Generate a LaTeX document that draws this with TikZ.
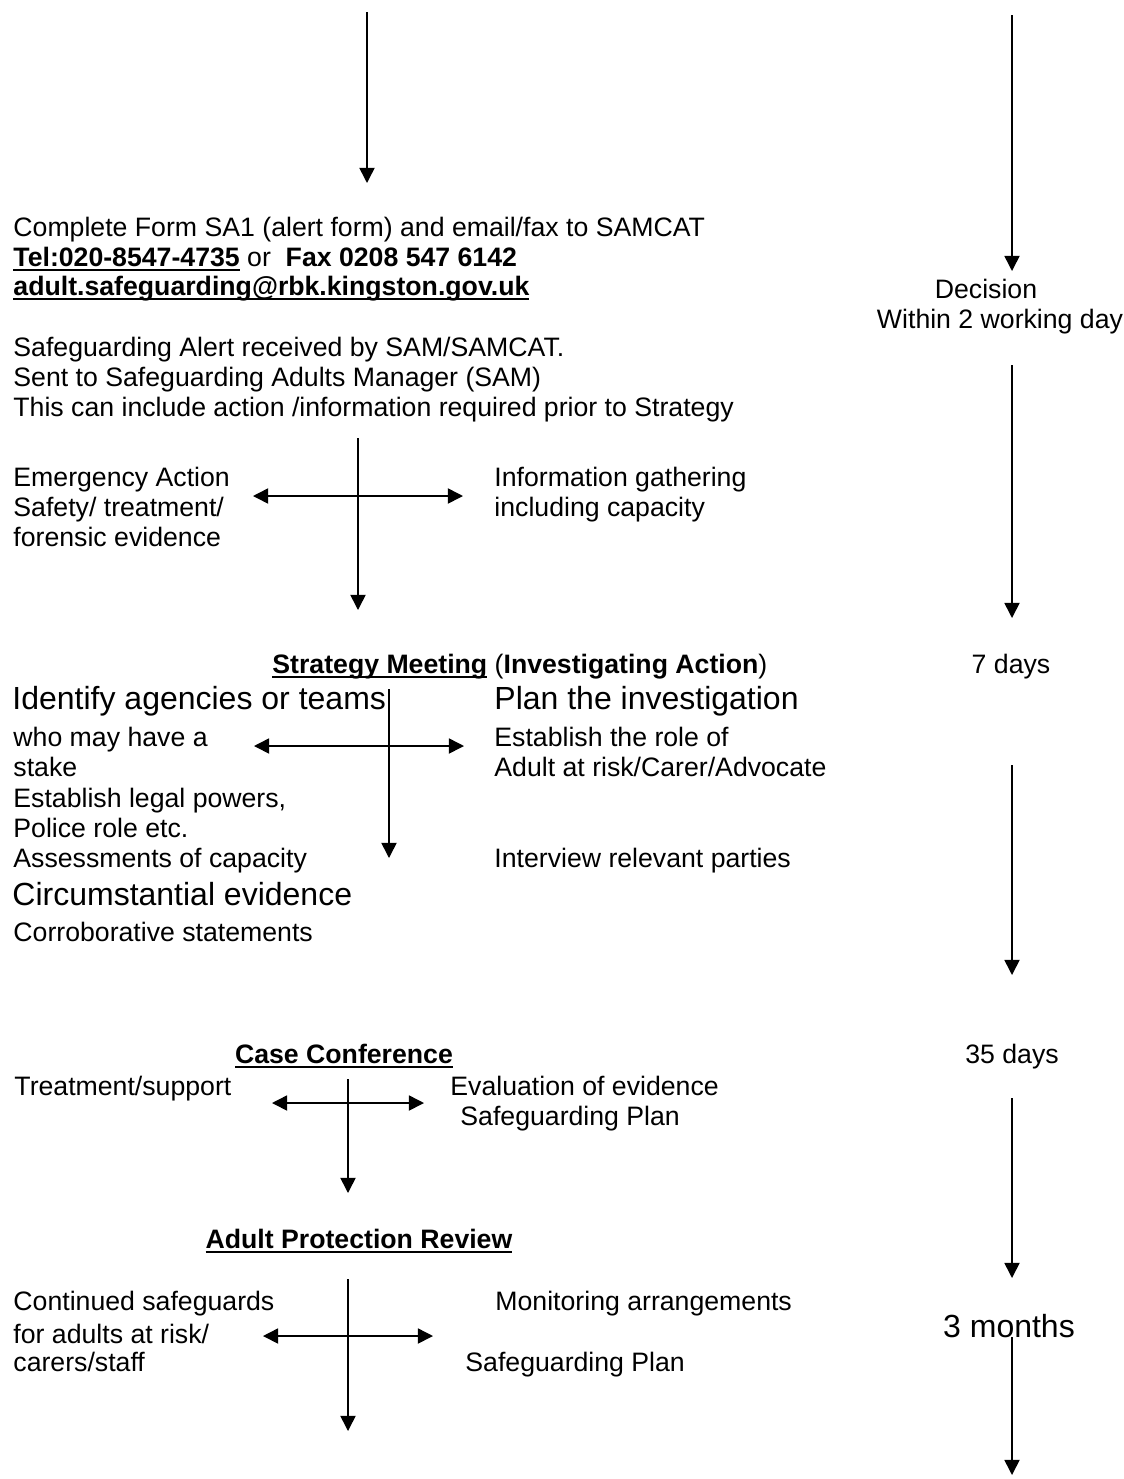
\documentclass[tikz,border=0pt]{standalone}
\usepackage{fontspec}
\setmainfont{Liberation Sans}
\usetikzlibrary{arrows.meta}
\newcommand\myul[1]{\setbox0\hbox{#1}\rlap{\rule[-2.3pt]{\wd0}{0.9pt}}\box0\relax}
\begin{document}
\begin{tikzpicture}[x=0.45pt,y=-0.45pt,
  t/.style={anchor=base west,inner sep=0pt,font=\fontsize{12}{14}\selectfont},
  tc/.style={anchor=base,inner sep=0pt,font=\fontsize{12}{14}\selectfont},
  big/.style={anchor=base west,inner sep=0pt,font=\fontsize{14.4}{17}\selectfont},
  bigc/.style={anchor=base,inner sep=0pt,font=\fontsize{14.4}{17}\selectfont},
  arr/.style={line width=0.7pt,-{Triangle[length=6.8pt,width=6.8pt]}},
  darr/.style={line width=0.7pt,{Triangle[length=6.8pt,width=6.8pt]}-{Triangle[length=6.8pt,width=6.8pt]}}]
\useasboundingbox (0,0) rectangle (1123,1479);

% ---------- left column text ----------
\node[t] (l1) at (13,236) {Complete Form SA1 (alert form) and email/fax to SAMCAT};
\node[t] (l2) at (13,266) {\myul{\textbf{Tel:020-8547-4735}} or \ \textbf{Fax 0208 547 6142}};
\node[t] (l3) at (13,295) {\myul{\textbf{adult.safeguarding@rbk.kingston.gov.uk}}};
\node[t] (l4) at (13,356) {Safeguarding Alert received by SAM/SAMCAT.};
\node[t] (l5) at (13,386) {Sent to Safeguarding Adults Manager (SAM)};
\node[t] (l6) at (13,416) {This can include action /information required prior to Strategy};

\node[t] (e1) at (13,486) {Emergency Action};
\node[t] (e2) at (13,516) {Safety/ treatment/};
\node[t] (e3) at (13,546) {forensic evidence};
\node[t] (i1) at (494,486) {Information gathering};
\node[t] (i2) at (494,516) {including capacity};

\node[t] (sm) at (272,673) {\myul{\textbf{Strategy Meeting}} (\textbf{Investigating Action})};
\node[big] (s1) at (12,709) {Identify agencies or teams};
\node[big] (p1) at (494,709) {Plan the investigation};
\node[t] (s2) at (13,746) {who may have a};
\node[t] (s3) at (13,776) {stake};
\node[t] (s4) at (13,807) {Establish legal powers,};
\node[t] (s5) at (13,837) {Police role etc.};
\node[t] (s6) at (13,867) {Assessments of capacity};
\node[big] (s7) at (12,905) {Circumstantial evidence};
\node[t] (s8) at (13,941) {Corroborative statements};
\node[t] (p2) at (494,746) {Establish the role of};
\node[t] (p3) at (494,776) {Adult at risk/Carer/Advocate};
\node[t] (p4) at (494,867) {Interview relevant parties};

\node[tc] (cc) at (344,1063) {\myul{\textbf{Case Conference}}};
\node[t] (c1) at (14,1095) {Treatment/support};
\node[t] (c2) at (450,1095) {Evaluation of evidence};
\node[t] (c3) at (460,1125) {Safeguarding Plan};

\node[tc] (apr) at (359,1248) {\myul{\textbf{Adult Protection Review}}};
\node[t] (a1) at (13,1310) {Continued safeguards};
\node[t] (a2) at (13,1343) {for adults at risk/};
\node[t] (a3) at (13,1371) {carers/staff};
\node[t] (m1) at (495,1310) {Monitoring arrangements};
\node[t] (m2) at (465,1371) {Safeguarding Plan};

% ---------- right column text ----------
\node[tc] (dec) at (986,298) {Decision};
\node[tc] (w2) at (1000,328) {Within 2 working day};
\node[tc] (d7) at (1011,673) {7 days};
\node[tc] (d35) at (1012,1063) {35 days};
\node[bigc] (m3) at (1009,1337) {3 months};

% ---------- coordinates ----------
\coordinate (top1) at (367,12);   \coordinate (top1e) at (367,183);
\coordinate (ra1) at (1012,15);   \coordinate (ra1e) at (1012,271);
\coordinate (ra2) at (1012,365);  \coordinate (ra2e) at (1012,618);
\coordinate (ra3) at (1012,765);  \coordinate (ra3e) at (1012,975);
\coordinate (ra4) at (1012,1098); \coordinate (ra4e) at (1012,1278);
\coordinate (ra5) at (1012,1337); \coordinate (ra5e) at (1012,1475);

\coordinate (x1t) at (358,438);  \coordinate (x1b) at (358,610);
\coordinate (x1l) at (253,496);  \coordinate (x1r) at (463,496);
\coordinate (x2t) at (389,689);  \coordinate (x2b) at (389,858);
\coordinate (x2l) at (254,746);  \coordinate (x2r) at (464,746);
\coordinate (x3t) at (348,1079); \coordinate (x3b) at (348,1193);
\coordinate (x3l) at (272,1103); \coordinate (x3r) at (424,1103);
\coordinate (x4t) at (348,1279); \coordinate (x4b) at (348,1431);
\coordinate (x4l) at (263,1336); \coordinate (x4r) at (433,1336);

% ---------- arrows ----------
\draw[arr] (top1) -- (top1e);
\draw[arr] (ra1) -- (ra1e);
\draw[arr] (ra2) -- (ra2e);
\draw[arr] (ra3) -- (ra3e);
\draw[arr] (ra4) -- (ra4e);
\draw[arr] (ra5) -- (ra5e);

\draw[arr] (x1t) -- (x1b);
\draw[darr] (x1l) -- (x1r);
\draw[arr] (x2t) -- (x2b);
\draw[darr] (x2l) -- (x2r);
\draw[arr] (x3t) -- (x3b);
\draw[darr] (x3l) -- (x3r);
\draw[arr] (x4t) -- (x4b);
\draw[darr] (x4l) -- (x4r);
\end{tikzpicture}
\end{document}
